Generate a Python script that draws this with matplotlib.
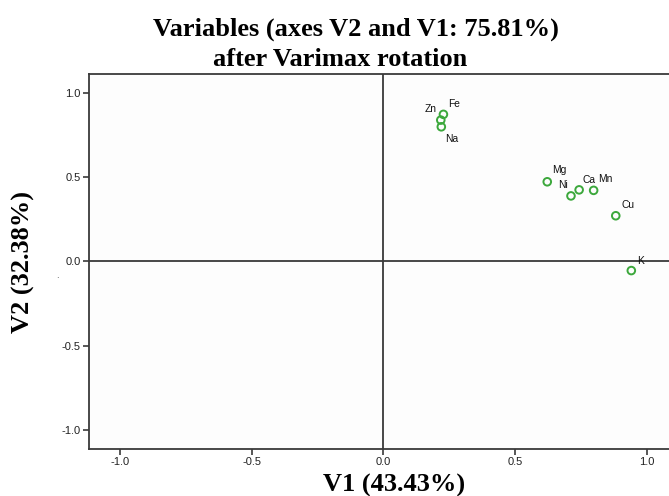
import matplotlib
matplotlib.use("Agg")
import matplotlib.pyplot as plt

# loadings after varimax rotation
variables = ["Fe", "Zn", "Na", "Mg", "Ni", "Ca", "Mn", "Cu", "K"]
v1 = [0.228, 0.218, 0.220, 0.622, 0.712, 0.743, 0.798, 0.882, 0.941]
v2 = [0.875, 0.841, 0.801, 0.474, 0.390, 0.426, 0.423, 0.272, -0.054]
ticks = [-1.0, -0.5, 0.0, 0.5, 1.0]

# where each label sits relative to its point (pixels)
label_offsets = {
    "Fe": (11, 10), "Zn": (-10, 11), "Na": (10, -12), "Mg": (12, 12),
    "Ni": (-8, 11), "Ca": (10, 10), "Mn": (12, 11), "Cu": (12, 11),
    "K": (9, 10),
}

GREEN = "#3ca83c"
FRAME = "#3a3a3a"

fig = plt.figure(figsize=(6.69, 4.96), dpi=100)
ax = fig.add_axes([0.133, 0.0948, 0.880, 0.756])

ax.axhline(0, color=FRAME, lw=1.3, zorder=1)
ax.axvline(0, color=FRAME, lw=1.3, zorder=1)

ax.scatter(v1, v2, s=30, facecolors="none", edgecolors=GREEN,
           linewidths=1.4, zorder=3)

for name, x, y in zip(variables, v1, v2):
    dx, dy = label_offsets[name]
    ax.annotate(name, (x, y), xytext=(dx, dy), textcoords="offset pixels",
                ha="center", va="center", fontsize=7.4,
                family="Liberation Sans", color="#111111")

ax.set_xlim(-1.117, 1.117)
ax.set_ylim(-1.115, 1.115)
ax.set_xticks(ticks)
ax.set_yticks(ticks)
ax.set_xticklabels([f"{t:.1f}" for t in ticks])
ax.set_yticklabels([f"{t:.1f}" for t in ticks])
ax.tick_params(direction="out", length=4, width=1.2, color=FRAME,
               labelsize=8, labelcolor="#222222", pad=2)
for lab in ax.get_xticklabels() + ax.get_yticklabels():
    lab.set_family("Liberation Sans")

for side in ["left", "bottom", "top"]:
    ax.spines[side].set_color(FRAME)
    ax.spines[side].set_linewidth(1.3)
ax.spines["right"].set_visible(False)
ax.set_facecolor("#fdfdfd")

# titles and axis labels
serif = dict(family="Liberation Serif", weight="bold", fontsize=19,
             color="black")
fig.text(355.5 / 669, 1 - 36 / 496, "Variables (axes V2 and V1: 75.81%)",
         ha="center", va="baseline", **serif)
fig.text(340 / 669, 1 - 66 / 496, "after Varimax rotation",
         ha="center", va="baseline", **serif)
fig.text(394 / 669, 1 - 491.7 / 496, "V1 (43.43%)",
         ha="center", va="baseline", **serif)
fig.text(23 / 669, 1 - 262 / 496, "V2 (32.38%)", rotation=90,
         ha="center", va="center", **serif)
fig.text(57 / 669, 1 - 276 / 496, ".", ha="center", va="center",
         fontsize=6, color="#333333")

fig.savefig("out.png", dpi=100)
